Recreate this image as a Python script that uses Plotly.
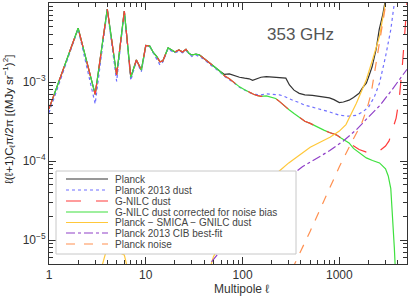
import plotly.graph_objects as go

# ---------------- data ----------------
ell_planck = [1,2,3,4,5,6,7,8,9,10,11,12,13,14,15,16,17,18,19,20,22,24,26,28,30,33,36,40,45,50,58,
              65,73,83,93,105,117,127,140,155,176,200,225,250,280,305,340,385,440,527,600,700,790,880,
              1000,1100,1260,1400,1600,1740,1900,2000,2180,2400,2580,2800,2950]
planck = [4.6e-4,4.8e-3,7.0e-4,8.4e-3,1.23e-3,7.9e-3,1.15e-3,1.9e-3,1.42e-3,2.9e-3,2.85e-3,2.35e-3,2.1e-3,
          1.8e-3,1.85e-3,2.3e-3,2.7e-3,2.6e-3,2.5e-3,2.4e-3,2.55e-3,2.4e-3,2.6e-3,2.3e-3,2.2e-3,2.25e-3,
          2.2e-3,2.0e-3,1.75e-3,1.6e-3,1.38e-3,
          1.25e-3,1.27e-3,1.2e-3,1.15e-3,1.12e-3,1.1e-3,1.05e-3,1.1e-3,1.15e-3,1.17e-3,1.16e-3,1.16e-3,
          1.15e-3,1.12e-3,9.2e-4,7.9e-4,7.2e-4,6.9e-4,6.8e-4,6.6e-4,6.5e-4,6.3e-4,6.0e-4,5.5e-4,5.6e-4,
          5.9e-4,6.4e-4,7.2e-4,8.5e-4,9.7e-4,1.15e-3,1.56e-3,2.6e-3,4.6e-3,7.0e-3,1.0e-2]

ell_dust = [1,2,3,4,5,6,7,8,9,10,11,12,13,14,15,16,17,18,19,20,22,24,26,28,30,33,36,40,45,50,58,
            65,73,83,93,105,117,130,140,155,176,200,220,240,270,300,340,385,440,500,560,620,700,790,
            930,1050,1260,1400,1600,1900,2180,2600,3000,3260,3500,3700,3860,4000,4200,4500,4800,5000]
gnilc_dust = [4.6e-4,4.8e-3,7.0e-4,8.4e-3,1.23e-3,7.9e-3,1.15e-3,1.9e-3,1.42e-3,2.9e-3,2.85e-3,2.35e-3,
              2.1e-3,1.8e-3,1.85e-3,2.3e-3,2.7e-3,2.6e-3,2.5e-3,2.4e-3,2.55e-3,2.4e-3,2.6e-3,2.3e-3,
              2.2e-3,2.25e-3,2.2e-3,2.0e-3,1.75e-3,1.6e-3,1.38e-3,
              1.2e-3,1.1e-3,9.7e-4,8.7e-4,8.0e-4,7.4e-4,7.0e-4,6.8e-4,6.6e-4,6.7e-4,6.4e-4,6.2e-4,
              5.7e-4,5.0e-4,4.5e-4,4.0e-4,3.55e-4,3.2e-4,3.0e-4,2.8e-4,2.6e-4,2.45e-4,2.3e-4,2.15e-4,
              1.95e-4,1.7e-4,1.55e-4,1.4e-4,1.3e-4,1.26e-4,1.35e-4,1.55e-4,1.8e-4,2.4e-4,2.9e-4,
              3.5e-4,4.6e-4,7e-4,1.75e-3,4.5e-3,1.0e-2]

ell_corr = [1,2,3,4,5,6,7,8,9,10,11,12,13,14,15,16,17,18,19,20,22,24,26,28,30,33,36,40,45,50,58,
            65,73,83,93,105,117,130,140,155,176,200,220,240,270,300,340,385,440,500,560,620,700,790,
            930,1050,1260,1400,1600,1900,2200,2600,3000,3200,3400,3550,3700,3800]
gnilc_corr = [4.6e-4,4.8e-3,7.0e-4,8.4e-3,1.23e-3,7.9e-3,1.15e-3,1.9e-3,1.42e-3,2.9e-3,2.85e-3,2.35e-3,
              2.1e-3,1.8e-3,1.85e-3,2.3e-3,2.7e-3,2.6e-3,2.5e-3,2.4e-3,2.55e-3,2.4e-3,2.6e-3,2.3e-3,
              2.2e-3,2.25e-3,2.2e-3,2.0e-3,1.75e-3,1.6e-3,1.38e-3,
              1.2e-3,1.1e-3,9.7e-4,8.7e-4,8.0e-4,7.4e-4,7.0e-4,6.8e-4,6.6e-4,6.7e-4,6.4e-4,6.2e-4,
              5.7e-4,5.0e-4,4.5e-4,4.0e-4,3.55e-4,3.2e-4,3.0e-4,2.8e-4,2.6e-4,2.45e-4,2.3e-4,2.15e-4,
              1.95e-4,1.7e-4,1.45e-4,1.27e-4,1.1e-4,1.02e-4,9.5e-5,8.0e-5,6.5e-5,4.5e-5,2.1e-5,8e-6,4e-6]

ell_d2013 = [1,2,3,4,5,6,7,8,9,10,11,12,13,14,15,16,17,18,19,20,22,24,26,28,30,33,36,40,45,50,58,
             65,73,83,93,105,117,130,140,155,176,200,240,270,300,340,385,440,500,620,790,1000,1260,
             1500,1740,2000,2300,2600,3000,3400,3700]
dust2013 = [4.1e-4,4.7e-3,5.3e-4,8.2e-3,1.02e-3,7.8e-3,1.05e-3,1.85e-3,1.35e-3,2.85e-3,2.8e-3,2.3e-3,
            2.0e-3,1.65e-3,1.8e-3,2.25e-3,2.65e-3,2.5e-3,2.4e-3,2.35e-3,2.45e-3,2.35e-3,2.5e-3,2.25e-3,
            2.1e-3,2.2e-3,2.1e-3,1.95e-3,1.7e-3,1.55e-3,1.35e-3,
            1.18e-3,1.08e-3,9.6e-4,8.6e-4,7.9e-4,7.4e-4,7.0e-4,6.9e-4,6.9e-4,7.1e-4,7.0e-4,6.9e-4,
            6.6e-4,6.2e-4,5.8e-4,5.5e-4,5.1e-4,4.9e-4,4.6e-4,4.2e-4,3.8e-4,3.7e-4,3.8e-4,4.2e-4,
            4.8e-4,6.5e-4,9.7e-4,2.1e-3,4.6e-3,1.0e-2]

ell_smica = [2,3,4,5,6,7,8,40,45,50,58,65,73,83,93,105,117,140,165,190,240,300,385,500,670,800,
             1000,1170,1500,1900,2200,2600,2900,3100]
smica_res = [None,2.3e-6,8.2e-6,7.2e-6,6.5e-6,3.0e-6,None,None,4.0e-6,6.2e-6,8.5e-6,1.05e-5,1.25e-5,
             1.5e-5,1.8e-5,2.1e-5,2.4e-5,3.1e-5,4.0e-5,5.0e-5,7.5e-5,9.5e-5,1.2e-4,1.5e-4,1.8e-4,
             2.0e-4,2.4e-4,2.9e-4,5.4e-4,1.07e-3,1.9e-3,3.8e-3,8.0e-3,1.3e-2]

ell_cib = [30,46,60,93,150,240,415,790,1100,1500,1950,2600,3500,5000]
cib = [2.2e-6,5e-6,7.5e-6,1.5e-5,2.8e-5,5e-5,8.5e-5,1.35e-4,1.8e-4,2.5e-4,3.5e-4,5e-4,8e-4,1.45e-3]

ell_noise = [200,300,345,500,700,1000,1360,1700,1950,2130,2400,2700,3000,3200]
noise = [1e-6,3.4e-6,5e-6,1.3e-5,3.2e-5,8.5e-5,1.8e-4,3e-4,4.8e-4,7.2e-4,1.75e-3,4.6e-3,1e-2,1.5e-2]

names = ["Planck", "Planck 2013 dust", "G-NILC dust", "G-NILC dust corrected for noise bias",
         "Planck − SMICA − GNILC dust", "Planck 2013 CIB best-fit", "Planck noise"]
colors = ["#333333", "#6f6fff", "#ff3b3b", "#3fe03f", "#ffc83a", "#9040c8", "#ff9050"]
dashes = ["solid", "dot", "longdash", "solid", "solid", "dashdot", "dash"]

x_ticks = [1, 10, 100, 1000]
x_ticktext = ["1", "10", "100", "1000"]
y_ticks = [1e-5, 1e-4, 1e-3, 1e-2]
y_ticktext = ["10<sup>−5</sup>", "10<sup>−4</sup>", "10<sup>−3</sup>", "10<sup>−2</sup>"]

# ---------------- figure ----------------
W, H = 415, 297
L, R, T, B = 49, 8, 3, 33
fig = go.Figure()

series = [
    (ell_planck, planck, 0),
    (ell_d2013, dust2013, 1),
    (ell_corr, gnilc_corr, 3),
    (ell_dust, gnilc_dust, 2),
    (ell_smica, smica_res, 4),
    (ell_cib, cib, 5),
    (ell_noise, noise, 6),
]
for xs, ys, k in series:
    fig.add_trace(go.Scatter(x=xs, y=ys, mode="lines", name=names[k], showlegend=False,
                             connectgaps=False, hoverinfo="skip",
                             line=dict(color=colors[k], dash=dashes[k], width=1.2)))

def px_x(p):
    return (p - L) / (W - L - R)

def px_y(p):
    return (H - B - p) / (H - T - B)

shapes = [dict(type="rect", xref="paper", yref="paper", x0=px_x(56), x1=px_x(296),
               y0=px_y(254), y1=px_y(171), line=dict(color="#c8c8c8", width=1),
               fillcolor="white", layer="above")]
annotations = []
rows = [179, 190, 201, 212, 222.5, 233, 244]
for k, ry in enumerate(rows):
    shapes.append(dict(type="line", xref="paper", yref="paper", x0=px_x(66), x1=px_x(108),
                       y0=px_y(ry), y1=px_y(ry), layer="above",
                       line=dict(color=colors[k], dash=dashes[k], width=1.2)))
    annotations.append(dict(xref="paper", yref="paper", x=px_x(113), y=px_y(ry), text=names[k],
                            showarrow=False, xanchor="left", yanchor="middle",
                            font=dict(size=10, color="#444444")))

annotations.append(dict(xref="paper", yref="paper", x=px_x(300), y=px_y(34), text="353 GHz",
                        showarrow=False, xanchor="center", yanchor="middle",
                        font=dict(size=17, color="#555555")))
annotations.append(dict(xref="paper", yref="paper", x=px_x(9), y=px_y(120),
                        text="ℓ(ℓ+1)C<sub>ℓ</sub>π/2π [(MJy sr<sup>−1</sup>)<sup>2</sup>]",
                        textangle=-90, showarrow=False, xanchor="center", yanchor="middle",
                        font=dict(size=11.5, color="#222222")))
annotations.append(dict(xref="paper", yref="paper", x=px_x(241), y=px_y(289),
                        text="Multipole ℓ", showarrow=False, xanchor="center", yanchor="middle",
                        font=dict(size=12, color="#333333")))

minor_x = [m * 10 ** e for e in range(0, 4) for m in range(2, 10)]
minor_y = [m * 10 ** e for e in range(-6, -2) for m in range(2, 10)]

axis_common = dict(type="log", showgrid=False, zeroline=False, showline=True, linecolor="#333333",
                   linewidth=1, mirror="allticks", ticks="inside", ticklen=7, tickcolor="#333333",
                   tickwidth=1, automargin=False, tickfont=dict(size=12, color="#333333"))

fig.update_layout(
    width=W, height=H, margin=dict(l=L, r=R, t=T, b=B, autoexpand=False),
    paper_bgcolor="white", plot_bgcolor="white",
    font=dict(family="Liberation Sans, Arial, sans-serif", color="#333333"),
    xaxis=dict(range=[0, 3.699], tickmode="array", tickvals=x_ticks, ticktext=x_ticktext,
               minor=dict(tickmode="array", tickvals=minor_x, ticks="inside", ticklen=4,
                          tickcolor="#333333", showgrid=False),
               **axis_common),
    yaxis=dict(range=[-5.301, -2], tickmode="array", tickvals=y_ticks, ticktext=y_ticktext,
               minor=dict(tickmode="array", tickvals=minor_y, ticks="inside", ticklen=4,
                          tickcolor="#333333", showgrid=False),
               **axis_common),
    shapes=shapes, annotations=annotations, showlegend=False, hovermode=False,
)

fig.write_html("out.html", config={"displayModeBar": False},
               post_script="document.body.style.margin='0';document.body.style.overflow='hidden';")
